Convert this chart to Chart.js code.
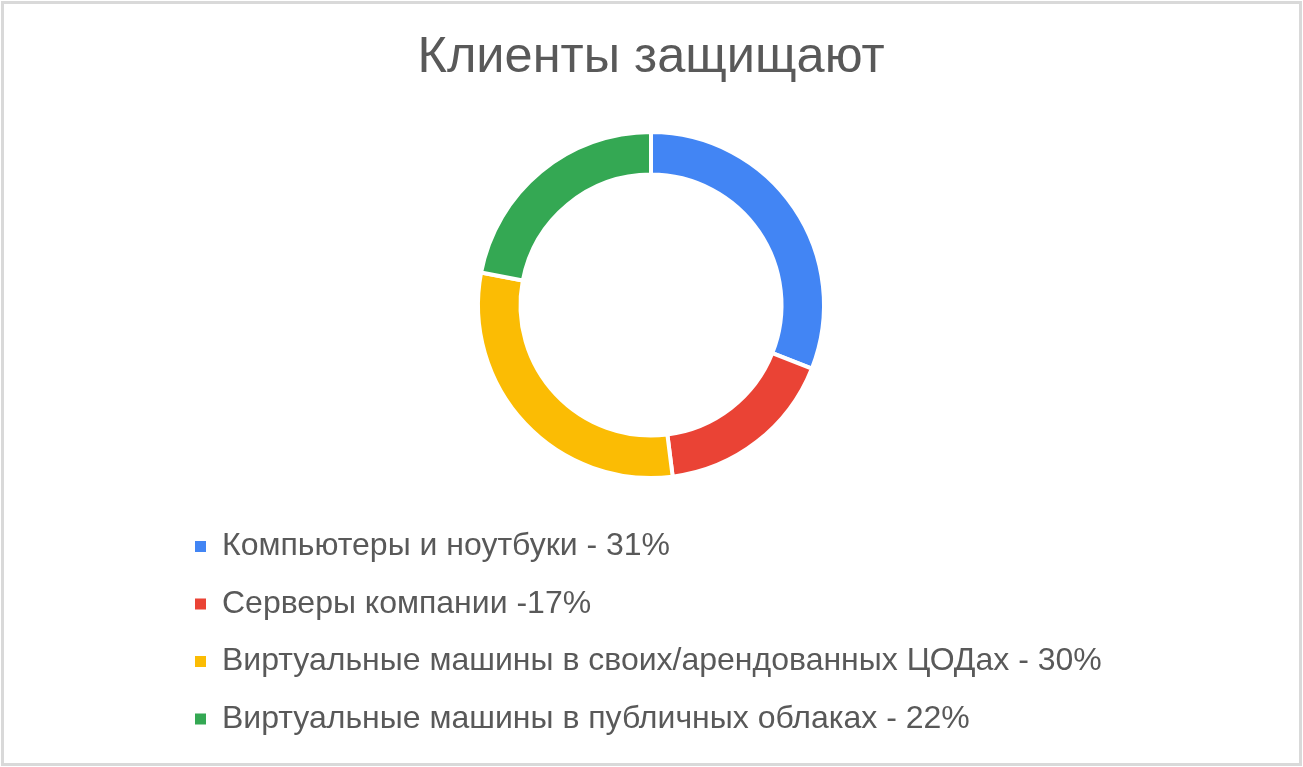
<!DOCTYPE html>
<html lang="ru">
<head>
<meta charset="utf-8">
<title>Клиенты защищают</title>
<script src="https://cdn.jsdelivr.net/npm/chart.js@4.4.1/dist/chart.umd.min.js"></script>
<style>
  html, body { margin: 0; padding: 0; background: #fff; }
  #wrap { position: relative; width: 1303px; height: 767px; }
  #frame {
    position: absolute; left: 1px; top: 1px; right: 1px; bottom: 1px;
    border: 3px solid #d9d9d9; pointer-events: none;
  }
  canvas { position: absolute; left: 0; top: 0; }
</style>
</head>
<body>
<div id="wrap">
  <canvas id="donut" width="1303" height="767"></canvas>
  <div id="frame"></div>
</div>
<script>
  // Chart data
  const titleText = 'Клиенты защищают';
  const categories = [
    'Компьютеры и ноутбуки - 31%',
    'Серверы компании -17%',
    'Виртуальные машины в своих/арендованных ЦОДах - 30%',
    'Виртуальные машины в публичных облаках - 22%'
  ];
  const shares = [31, 17, 30, 22];
  const sliceColors = ['#4285f4', '#ea4335', '#fbbc04', '#34a853'];

  const textColor = '#595959';
  const fontFamily = '"Liberation Sans", Arial, sans-serif';

  // default doughnut legend items, but without the white slice border on the swatch
  const baseLabels = Chart.overrides.doughnut.plugins.legend.labels.generateLabels;

  const ctx = document.getElementById('donut').getContext('2d');
  const chart = new Chart(ctx, {
    type: 'doughnut',
    data: {
      labels: categories,
      datasets: [{
        data: shares,
        backgroundColor: sliceColors,
        borderColor: '#ffffff',
        borderWidth: 4,
        hoverOffset: 0
      }]
    },
    options: {
      responsive: false,
      animation: false,
      radius: 173,
      cutout: '75.43%',
      layout: {
        padding: { top: 8, bottom: 22, left: 169.5, right: 189 }
      },
      plugins: {
        title: {
          display: true,
          fullSize: false,
          text: titleText,
          color: textColor,
          font: { family: fontFamily, size: 50.5, weight: 'normal' },
          padding: { top: 20.2, bottom: 16.2 }
        },
        // empty spacer on the left so the ring and title stay centred
        // while the legend keeps one item per row
        subtitle: {
          display: true,
          position: 'left',
          fullSize: false,
          text: ' ',
          font: { size: 10, lineHeight: 1 },
          padding: { top: 4.25, bottom: 4.25 }
        },
        legend: {
          position: 'bottom',
          align: 'start',
          labels: {
            color: textColor,
            font: { family: fontFamily, size: 32 },
            boxWidth: 11,
            boxHeight: 11,
            padding: 25.5,
            generateLabels: function(c) {
              return baseLabels(c).map(function(item) {
                item.lineWidth = 0;
                return item;
              });
            }
          }
        },
        tooltip: { enabled: false }
      }
    }
  });
</script>
</body>
</html>
